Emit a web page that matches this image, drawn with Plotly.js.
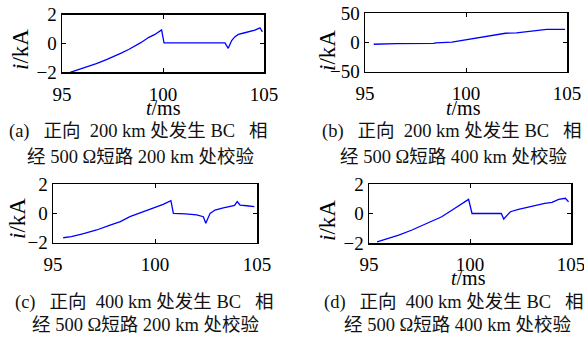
<!DOCTYPE html>
<html>
<head>
<meta charset="utf-8">
<script src="https://cdn.plot.ly/plotly-3.0.1.min.js"></script>
<style>html,body{margin:0;padding:0;background:#fff;}#chart{width:584px;height:340px;}</style>
</head>
<body>
<div id="chart"></div>
<script>
// Panel (a)
var tA = [95.4, 95.8, 96.2, 96.7, 97.2, 97.6, 97.9, 98.3, 98.6, 98.9, 99.3, 99.6, 99.93, 100.05, 101, 102, 103.07, 103.23, 103.4, 103.55, 103.73, 104.0, 104.3, 104.55, 104.8, 104.92];
var iA = [-2.0, -1.82, -1.64, -1.4, -1.12, -0.9, -0.69, -0.42, -0.2, 0.05, 0.42, 0.62, 0.93, 0.03, 0.03, 0.03, 0.03, -0.34, 0.2, 0.45, 0.62, 0.72, 0.82, 0.92, 1.08, 0.8];
// Panel (b)
var tB = [95.43, 96.5, 96.55, 98.4, 98.5, 99.3, 99.97, 100.6, 101.3, 101.95, 102.5, 102.94, 103.5, 104.0, 104.9];
var iB = [-3, -3, -2, -1.5, -0.5, 0.5, 4.3, 7.2, 11.5, 15.8, 16.5, 18.5, 21.5, 22.6, 22.6];
// Panel (c)
var tC = [95.5, 95.9, 96.5, 97.14, 97.8, 98.3, 98.77, 99.3, 99.92, 100.4, 100.78, 100.9, 101.5, 102.04, 102.37, 102.49, 102.7, 102.94, 103.3, 103.68, 103.9, 104.03, 104.17, 104.5, 104.87];
var iC = [-1.66, -1.59, -1.38, -1.13, -0.8, -0.56, -0.22, 0.05, 0.4, 0.62, 0.88, 0.01, -0.02, -0.1, -0.22, -0.67, 0.01, 0.24, 0.36, 0.47, 0.55, 0.81, 0.58, 0.53, 0.47];
// Panel (d)
var tD = [95.4, 95.9, 96.47, 97.13, 97.6, 98.1, 98.6, 99.1, 99.5, 99.93, 100.1, 101.0, 101.55, 101.67, 102.0, 102.4, 102.74, 103.1, 103.4, 103.7, 104.06, 104.39, 104.72, 104.88];
var iD = [-1.92, -1.72, -1.46, -1.12, -0.84, -0.53, -0.22, 0.22, 0.58, 0.96, 0.0, 0.0, 0.0, -0.37, 0.12, 0.28, 0.39, 0.5, 0.62, 0.68, 0.76, 0.96, 1.03, 0.8];

var xTicks = [95, 100, 105];
var yTicksSmall = [-2, 0, 2];
var yTicksBig = [-50, 0, 50];

var NB3 = "\u00a0\u00a0\u00a0", NB2 = "\u00a0\u00a0";
var captions = [
  ["(a)" + NB3 + "正向" + NB2 + "200 km 处发生 BC" + NB3 + "相", "经 500 Ω短路 200 km 处校验"],
  ["(b)" + NB3 + "正向" + NB2 + "200 km 处发生 BC" + NB3 + "相", "经 500 Ω短路 400 km 处校验"],
  ["(c)" + NB3 + "正向" + NB2 + "400 km 处发生 BC" + NB3 + "相", "经 500 Ω短路 200 km 处校验"],
  ["(d)" + NB3 + "正向" + NB2 + "400 km 处发生 BC" + NB3 + "相", "经 500 Ω短路 400 km 处校验"]
];
var yLabel = "<i>i</i>/kA";
var xLabel = "<i>t</i>/ms";

var W = 584, H = 340;
var FONT = "Liberation Serif, Times New Roman, serif";
var CFONT = "Liberation Serif, Noto Sans CJK SC, serif";

function px(x){ return x / W; }
function py(y){ return 1 - y / H; }

// plot boxes in pixels: [left, right, top, bottom]
var boxes = [
  [62, 264, 14.5, 72.3],
  [365, 567, 13.3, 71.7],
  [53, 257, 184.3, 242.7],
  [369, 571, 184, 243]
];

function line(t, i, n){
  return {x: t, y: i, type: 'scatter', mode: 'lines',
    line: {color: '#0000ff', width: 1.3},
    xaxis: 'x' + (n === 1 ? '' : n), yaxis: 'y' + (n === 1 ? '' : n),
    hoverinfo: 'skip', showlegend: false};
}

var data = [line(tA, iA, 1), line(tB, iB, 2), line(tC, iC, 3), line(tD, iD, 4)];

var layout = {
  width: W, height: H,
  margin: {l: 0, r: 0, t: 0, b: 0},
  paper_bgcolor: '#fff', plot_bgcolor: '#fff',
  showlegend: false,
  font: {family: FONT, size: 19, color: '#000'},
  annotations: []
};

for (var k = 0; k < 4; k++) {
  var b = boxes[k];
  var n = k + 1;
  var xa = 'xaxis' + (n === 1 ? '' : n);
  var ya = 'yaxis' + (n === 1 ? '' : n);
  var common = {
    showline: true, linecolor: '#000', linewidth: 1.5, mirror: 'ticks',
    ticks: 'inside', ticklen: 4, tickwidth: 1, tickcolor: '#000',
    showgrid: false, zeroline: false, fixedrange: true,
    ticklabeloverflow: 'allow',
    tickfont: {family: FONT, size: 19, color: '#000'}
  };
  layout[xa] = Object.assign({}, common, {
    domain: [px(b[0]), px(b[1])], range: [95, 105],
    tickvals: xTicks, ticktext: xTicks.map(String),
    ticklabelstandoff: 4,
    anchor: 'y' + (n === 1 ? '' : n)
  });
  var yt = (k === 1) ? yTicksBig : yTicksSmall;
  layout[ya] = Object.assign({}, common, {
    domain: [py(b[3]), py(b[2])], range: (k === 1) ? [-50, 50] : [-2, 2],
    tickvals: yt,
    anchor: 'x' + (n === 1 ? '' : n)
  });
}

function ann(text, x, y, opts){
  var a = {text: text, x: px(x), y: py(y), xref: 'paper', yref: 'paper',
    showarrow: false, xanchor: 'center', yanchor: 'middle',
    font: {family: FONT, size: 19, color: '#000'}};
  return Object.assign(a, opts || {});
}

// y labels
var yLab = [[20, 50], [327, 51], [17, 219], [327, 221]];
yLab.forEach(function(p){ layout.annotations.push(ann(yLabel, p[0], p[1], {textangle: -90, font: {family: FONT, size: 23, color: '#000'}})); });
// x labels (a, b, d)
var xLab = [[163, 108], [463.5, 108], [468, 278]];
xLab.forEach(function(p){ layout.annotations.push(ann(xLabel, p[0], p[1], {font: {family: FONT, size: 20, color: '#000'}})); });
// captions
var capPos = [[137.5, 132, 140.5, 157], [452, 132, 453.5, 157], [144, 302, 145, 325], [454, 302, 457, 325]];
for (var c = 0; c < 4; c++) {
  var p = capPos[c];
  layout.annotations.push(ann(captions[c][0], p[0], p[1], {font: {family: CFONT, size: 18.5, color: '#111'}}));
  layout.annotations.push(ann(captions[c][1], p[2], p[3], {font: {family: CFONT, size: 18.5, color: '#111'}}));
}

Plotly.newPlot('chart', data, layout, {staticPlot: true, displayModeBar: false});
</script>
</body>
</html>
